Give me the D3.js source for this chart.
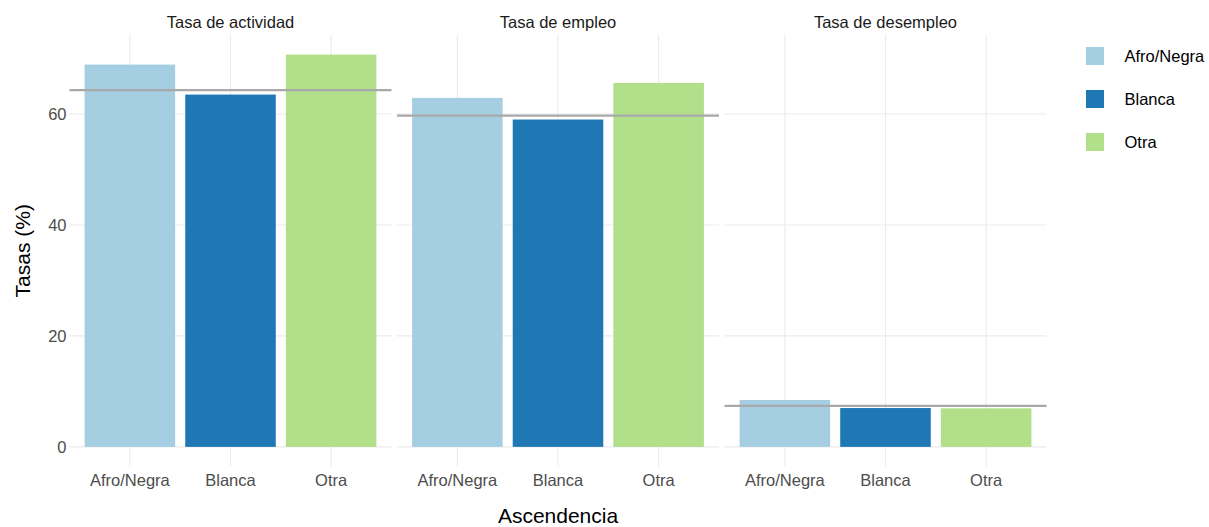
<!DOCTYPE html>
<html><head><meta charset="utf-8">
<script src="https://cdn.jsdelivr.net/npm/d3@7"></script>
<style>body{margin:0;background:#fff}svg{display:block;font-family:"Liberation Sans",Arial,sans-serif}</style>
</head><body>
<svg id="c" width="1209" height="527"></svg>
<script>
const categories = ["Afro/Negra","Blanca","Otra"];
const panels = ["Tasa de actividad","Tasa de empleo","Tasa de desempleo"];
const actividad = [68.9, 63.5, 70.7];
const empleo = [62.9, 59.0, 65.6];
const desempleo = [8.45, 7.0, 6.95];
const promedios = [64.3, 59.7, 7.4];
const yTicks = [0,20,40,60];
const colors = ["#A6CEE3","#1F78B4","#B2DF8A"];
const series = [actividad, empleo, desempleo];

const svg = d3.select("#c");
const panelW = 322, gap = 5.5, left0 = 69.5, panelTop = 35, panelBottom = 466.5;
const maxV = d3.max(series.flat());
const y = d3.scaleLinear().domain([-0.05*maxV, 1.05*maxV]).range([panelBottom, panelTop]);
const grid = "#EBEBEB";

panels.forEach((p, i) => {
  const x0 = left0 + i*(panelW+gap);
  const x = d3.scaleBand().domain(categories).range([x0, x0+panelW]).paddingInner(0.1).paddingOuter(0.15);
  const g = svg.append("g");
  g.selectAll(".hg").data(yTicks).join("line")
    .attr("x1", x0).attr("x2", x0+panelW).attr("y1", d=>y(d)).attr("y2", d=>y(d))
    .attr("stroke", grid).attr("stroke-width", 1.1);
  g.selectAll(".vg").data(categories).join("line")
    .attr("x1", d=>x(d)+x.bandwidth()/2).attr("x2", d=>x(d)+x.bandwidth()/2)
    .attr("y1", panelTop).attr("y2", panelBottom).attr("stroke", grid).attr("stroke-width", 1.1);
  g.selectAll("rect").data(series[i]).join("rect")
    .attr("x", (d,j)=>x(categories[j])).attr("width", x.bandwidth())
    .attr("y", d=>y(d)).attr("height", d=>y(0)-y(d))
    .attr("fill", (d,j)=>colors[j]);
  g.append("line").attr("x1", x0).attr("x2", x0+panelW)
    .attr("y1", y(promedios[i])).attr("y2", y(promedios[i]))
    .attr("stroke", "#A9A9A9").attr("stroke-width", 2.2);
  g.append("text").attr("x", x0+panelW/2).attr("y", 22).attr("text-anchor","middle")
    .attr("dominant-baseline","central").attr("font-size", 16.5).attr("fill","#1A1A1A").text(p);
  g.selectAll(".xl").data(categories).join("text")
    .attr("x", d=>x(d)+x.bandwidth()/2).attr("y", 480).attr("text-anchor","middle")
    .attr("dominant-baseline","central").attr("font-size", 16.5).attr("fill","#4D4D4D").text(d=>d);
});

svg.selectAll(".yl").data(yTicks).join("text")
  .attr("x", 66.5).attr("y", d=>y(d)).attr("text-anchor","end").attr("dominant-baseline","central")
  .attr("font-size", 16.5).attr("fill","#4D4D4D").text(d=>d);

svg.append("text").attr("x", left0 + (3*panelW+2*gap)/2).attr("y", 515).attr("text-anchor","middle")
  .attr("dominant-baseline","central").attr("font-size", 21).attr("fill","#000").text("Ascendencia");
svg.append("text").attr("transform", `translate(22,${(panelTop+panelBottom)/2}) rotate(-90)`).attr("text-anchor","middle")
  .attr("dominant-baseline","central").attr("font-size", 21).attr("fill","#000").text("Tasas (%)");

const lg = svg.append("g");
categories.forEach((c, j) => {
  const cy = 56 + j*43;
  lg.append("rect").attr("x", 1086).attr("y", cy-9).attr("width", 18).attr("height", 18).attr("fill", colors[j]);
  lg.append("text").attr("x", 1124.5).attr("y", cy).attr("dominant-baseline","central")
    .attr("font-size", 16.5).attr("fill","#000").text(c);
});
</script>
</body></html>
